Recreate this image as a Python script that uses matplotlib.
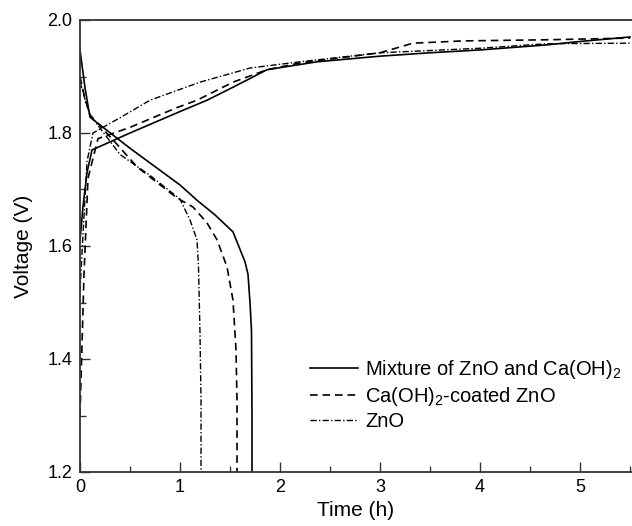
import matplotlib
matplotlib.use("Agg")
import matplotlib.pyplot as plt
from matplotlib.ticker import MultipleLocator

plt.rcParams['font.family'] = ['Liberation Sans', 'DejaVu Sans']
plt.rcParams['mathtext.fontset'] = 'custom'
plt.rcParams['mathtext.rm'] = 'Liberation Sans'
plt.rcParams['lines.scale_dashes'] = False

# Mixture of ZnO and Ca(OH)2 (solid)
mix_charge_t = [0, 0.03, 0.07, 0.12, 0.5, 1.0, 1.27, 1.53, 1.87, 2.37, 3.0, 3.5, 4.0, 4.67, 5.0, 5.5]
mix_charge_v = [1.61, 1.67, 1.73, 1.77, 1.80, 1.838, 1.858, 1.881, 1.912, 1.926, 1.936, 1.942, 1.947, 1.956, 1.962, 1.970]
mix_dis_t = [0, 0.05, 0.1, 0.5, 1.0, 1.17, 1.35, 1.53, 1.65, 1.68, 1.70, 1.715, 1.72, 1.72]
mix_dis_v = [1.947, 1.88, 1.828, 1.773, 1.708, 1.681, 1.655, 1.625, 1.572, 1.55, 1.50, 1.45, 1.30, 1.2]

# Ca(OH)2-coated ZnO (dashed)
coat_charge_t = [0, 0.04, 0.08, 0.18, 0.5, 0.97, 1.17, 1.53, 1.87, 2.2, 3.0, 3.33, 3.83, 4.67, 5.5]
coat_charge_v = [1.30, 1.55, 1.72, 1.79, 1.81, 1.845, 1.858, 1.89, 1.912, 1.924, 1.942, 1.959, 1.963, 1.965, 1.968]
coat_dis_t = [0, 0.05, 0.1, 0.37, 0.57, 0.97, 1.13, 1.27, 1.37, 1.47, 1.53, 1.56, 1.57, 1.57]
coat_dis_v = [1.90, 1.86, 1.832, 1.78, 1.74, 1.685, 1.669, 1.641, 1.611, 1.563, 1.504, 1.416, 1.327, 1.2]

# ZnO (dash-dot)
zno_charge_t = [0, 0.03, 0.07, 0.13, 0.4, 0.7, 1.2, 1.7, 2.2, 3.0, 4.0, 4.67, 5.5]
zno_charge_v = [1.52, 1.62, 1.75, 1.80, 1.827, 1.858, 1.89, 1.915, 1.926, 1.942, 1.950, 1.958, 1.959]
zno_dis_t = [0, 0.05, 0.1, 0.4, 0.7, 1.0, 1.1, 1.17, 1.185, 1.2, 1.21, 1.21]
zno_dis_v = [1.89, 1.86, 1.832, 1.762, 1.725, 1.683, 1.646, 1.611, 1.563, 1.446, 1.327, 1.2]

labels = ['Mixture of ZnO and Ca(OH)$_2$', 'Ca(OH)$_2$-coated ZnO', 'ZnO']
dash = (0, (5.5, 3.5))
dashdot = (0, (4.5, 1.6, 1.0, 1.6))

fig = plt.figure(figsize=(6.32, 5.26), dpi=100)
ax = fig.add_axes([80 / 632, 54 / 526, 552 / 632, 452 / 526])

lw = 1.2
ax.plot(mix_charge_t, mix_charge_v, color='black', lw=lw, label=labels[0])
ax.plot(mix_dis_t, mix_dis_v, color='black', lw=lw)
ax.plot(coat_charge_t, coat_charge_v, color='black', lw=lw, linestyle=dash, label=labels[1])
ax.plot(coat_dis_t, coat_dis_v, color='black', lw=lw, linestyle=dash)
ax.plot(zno_charge_t, zno_charge_v, color='black', lw=1.0, linestyle=dashdot, label=labels[2])
ax.plot(zno_dis_t, zno_dis_v, color='black', lw=1.0, linestyle=dashdot)

ax.set_xlim(0, 5.52)
ax.set_ylim(1.2, 2.0)
ax.xaxis.set_major_locator(MultipleLocator(1))
ax.xaxis.set_minor_locator(MultipleLocator(0.5))
ax.yaxis.set_major_locator(MultipleLocator(0.2))
ax.yaxis.set_minor_locator(MultipleLocator(0.1))
ax.tick_params(which='both', direction='in', labelsize=13, width=1.0, color='#333333')
ax.tick_params(axis='x', pad=5)
ax.tick_params(axis='y', pad=5.5)
ax.tick_params(which='major', length=7)
ax.tick_params(which='minor', length=4)
ax.spines['right'].set_visible(False)
for s in ['left', 'bottom', 'top']:
    ax.spines[s].set_linewidth(1.3)
    ax.spines[s].set_color('#333333')

ax.set_xlabel('Time (h)', fontsize=15, labelpad=4)
ax.set_ylabel('Voltage (V)', fontsize=15, labelpad=10)

ax.legend(loc='upper left', bbox_to_anchor=((310 - 80) / 552, 0.252), frameon=False,
          fontsize=14.5, borderpad=0, borderaxespad=0,
          handlelength=2.4, handletextpad=0.35, labelspacing=0.2)

fig.savefig('out.png', dpi=100)
